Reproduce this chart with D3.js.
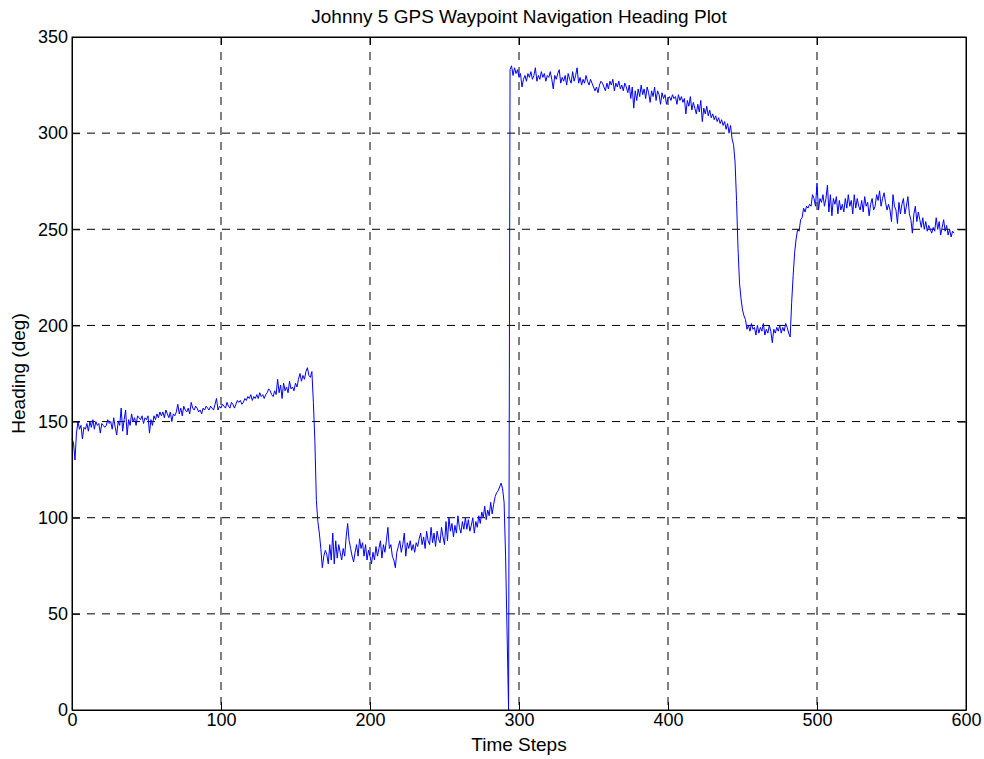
<!DOCTYPE html>
<html>
<head>
<meta charset="utf-8">
<script src="https://cdn.jsdelivr.net/npm/d3@7"></script>
<style>
	body { margin: 0; background: #fff; }
	text { font-family: "Liberation Sans", Arial, sans-serif; fill: #000; }
	.grid line { stroke: #000; stroke-dasharray: 8,7; stroke-width: 1; }
</style>
</head>
<body>
<div id="chart"></div>
<script>

// heading readings, one per time step, split by hundreds
var heading000 = [141,139,130,144,150,146,148,141,147,146,149,145,150,147,151,146,150,148,149,144,
	149,148,147,148,151,149,150,146,152,147,143,150,148,157,145,151,156,143,151,148,
	154,150,152,148,153,152,151,153,149,152,151,153,144,151,148,153,151,154,152,155,
	153,155,152,156,154,152,155,150,154,153,155,159,154,157,153,158,156,155,157,154,
	160,157,156,158,157,155,156,154,157,156,158,157,156,158,157,156,159,162,156,158];

var heading100 = [157,159,158,157,160,158,157,160,159,157,159,161,160,161,159,160,162,161,163,162,
	164,161,163,162,164,162,165,163,164,162,164,165,167,166,164,163,166,164,172,165,
	169,162,170,166,168,165,171,167,168,166,170,168,172,175,171,174,172,176,178,174,
	173,176,160,140,109,98,92,84,74,80,83,81,76,86,78,92,76,88,79,86,
	82,78,84,80,90,97,88,84,80,77,82,86,80,89,84,87,80,86,78,83];

var heading200 = [80,76,82,78,85,80,84,88,79,86,82,88,95,84,86,80,78,74,82,85,
	88,82,86,92,80,87,84,88,83,86,82,87,85,89,92,86,90,84,93,88,
	86,95,87,92,85,93,89,87,95,90,86,98,88,100,93,97,90,96,92,101,
	95,92,98,94,100,94,99,93,96,100,92,98,95,101,97,103,100,106,99,104,
	101,108,102,107,111,113,114,116,118,115,108,80,40,0,333,335,330,334,331,333];

var heading300 = [329,331,324,328,330,327,331,329,332,328,330,334,327,330,328,332,329,331,327,330,
	329,332,328,323,330,328,331,333,326,329,327,330,325,331,328,326,332,327,330,334,
	326,329,325,328,326,330,327,325,328,326,324,322,324,321,325,327,326,324,322,326,
	323,327,325,328,322,326,324,327,323,325,322,326,324,321,325,318,324,313,322,317,
	323,319,325,320,323,318,324,321,316,322,319,324,317,322,320,315,321,318,320,315];

var heading400 = [318,319,317,320,318,319,315,320,317,319,316,318,310,317,314,319,312,316,313,310,
	315,311,317,306,313,310,314,309,312,308,310,307,309,306,308,305,307,304,306,302,
	305,300,304,297,294,285,265,240,222,214,208,205,203,198,200,197,201,198,199,195,
	200,196,199,197,201,195,198,196,200,197,191,198,196,199,197,200,196,199,197,201,
	199,196,194,212,226,238,245,250,249,255,256,261,259,262,261,263,262,268,266,262];

var heading500 = [274,260,266,264,268,262,266,273,259,268,257,266,263,267,258,265,260,263,259,266,
	261,268,262,265,258,268,261,266,262,260,265,259,267,262,264,257,263,266,260,262,
	268,265,270,262,266,269,264,260,263,260,254,268,262,260,253,264,258,263,266,258,
	262,267,258,255,248,258,262,254,259,255,251,256,250,254,249,252,250,248,251,249,
	256,250,254,247,251,255,249,252,247,250,246,249,248];

var xTicks = [0, 100, 200, 300, 400, 500, 600];
var yTicks = [0, 50, 100, 150, 200, 250, 300, 350];

var titleText = "Johnny 5 GPS Waypoint Navigation Heading Plot",
	xLabel = "Time Steps",
	yLabel = "Heading (deg)";

var render = function() {

	var data, x, y, svg, line,
		left = 72, right = 966, top = 37, bottom = 710;

	data = heading000.concat(heading100, heading200, heading300, heading400, heading500)
		.map(function(v, i) { return { step: i, value: v }; });

	x = d3.scaleLinear().domain([0, 600]).range([left, right]);
	y = d3.scaleLinear().domain([0, 350]).range([bottom, top]);

	svg = d3.select("#chart").append("svg")
		.attr("width", 984)
		.attr("height", 759);

	svg.append("rect")
		.attr("width", 984)
		.attr("height", 759)
		.attr("fill", "#fff");

	// dashed grid
	var grid = svg.append("g").attr("class", "grid");

	grid.selectAll(".gx")
		.data(xTicks.slice(1, -1))
		.enter().append("line")
		.attr("x1", function(d) { return x(d); })
		.attr("x2", function(d) { return x(d); })
		.attr("y1", top)
		.attr("y2", bottom);

	grid.selectAll(".gy")
		.data(yTicks.slice(1, -1))
		.enter().append("line")
		.attr("x1", left)
		.attr("x2", right)
		.attr("y1", function(d) { return y(d); })
		.attr("y2", function(d) { return y(d); });

	// the heading trace
	line = d3.line()
		.x(function(d) { return x(d.step); })
		.y(function(d) { return y(d.value); });

	svg.append("path")
		.datum(data)
		.attr("fill", "none")
		.attr("stroke", "#0000ff")
		.attr("stroke-width", 1)
		.attr("d", line);

	// axes, ticks pointing inward like matlab
	var xAxis = d3.axisBottom(x).tickValues(xTicks).tickSizeInner(-8).tickSizeOuter(0).tickPadding(3),
		yAxis = d3.axisLeft(y).tickValues(yTicks).tickSizeInner(-8).tickSizeOuter(0).tickPadding(4),
		xAxisTop = d3.axisTop(x).tickValues(xTicks).tickSizeInner(-8).tickSizeOuter(0).tickFormat(""),
		yAxisRight = d3.axisRight(y).tickValues(yTicks).tickSizeInner(-8).tickSizeOuter(0).tickFormat("");

	svg.append("g")
		.attr("transform", "translate(0," + bottom + ")")
		.call(xAxis);

	svg.append("g")
		.attr("transform", "translate(" + left + ",0)")
		.call(yAxis);

	svg.append("g")
		.attr("transform", "translate(0," + top + ")")
		.call(xAxisTop);

	svg.append("g")
		.attr("transform", "translate(" + right + ",0)")
		.call(yAxisRight);

	svg.selectAll(".domain, .tick line")
		.attr("stroke", "#000");

	svg.selectAll(".tick text")
		.attr("font-size", 18)
		.attr("font-family", "Liberation Sans, Arial, sans-serif");

	// frame
	svg.append("rect")
		.attr("x", left)
		.attr("y", top)
		.attr("width", right - left)
		.attr("height", bottom - top)
		.attr("fill", "none")
		.attr("stroke", "#000");

	// title and labels
	svg.append("text")
		.attr("x", (left + right) / 2)
		.attr("y", 23)
		.attr("text-anchor", "middle")
		.attr("font-size", 19)
		.text(titleText);

	svg.append("text")
		.attr("x", (left + right) / 2)
		.attr("y", 751)
		.attr("text-anchor", "middle")
		.attr("font-size", 19)
		.text(xLabel);

	svg.append("text")
		.attr("transform", "translate(25," + ((top + bottom) / 2) + ") rotate(-90)")
		.attr("text-anchor", "middle")
		.attr("font-size", 19)
		.text(yLabel);

}

render();

</script>
</body>
</html>
